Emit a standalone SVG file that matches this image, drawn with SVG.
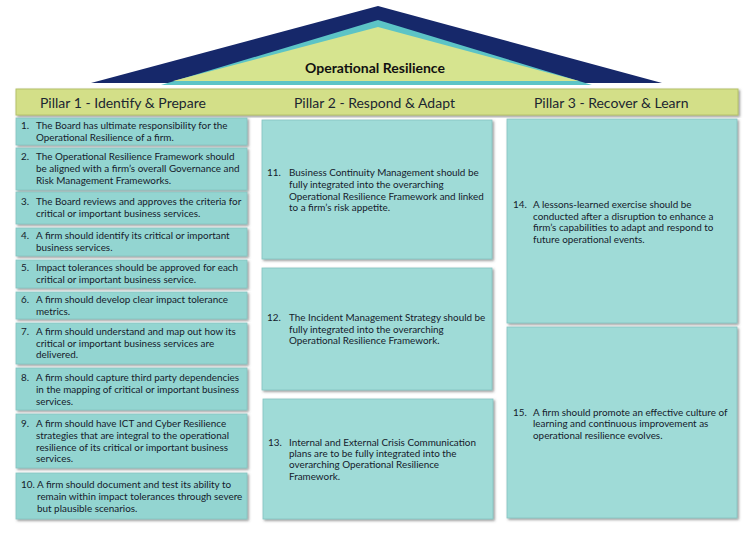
<svg xmlns="http://www.w3.org/2000/svg" width="756" height="536" viewBox="0 0 756 536">
<defs>
<filter id="sh" x="-5%" y="-5%" width="110%" height="115%">
<feDropShadow dx="1.5" dy="1.5" stdDeviation="1" flood-color="#444" flood-opacity="0.55"/>
</filter>
<style>
.box{fill:#9fdbd7;stroke:#86c4c1;stroke-width:0.8;filter:url(#sh)}
.b1{fill:#93d5d1}
.t{font-family:Lato,"Liberation Sans",sans-serif;font-size:9.9px;fill:#15202b}
.h{font-family:Lato,"Liberation Sans",sans-serif;font-size:14px;fill:#1b2631}
.title{font-family:Lato,"Liberation Sans",sans-serif;font-size:14px;font-weight:bold;fill:#111}
</style>
</defs>
<rect width="756" height="536" fill="#ffffff"/>
<g id="roof">
<polygon points="91,83 378,6 662,83" fill="#16286a"/>
<polygon points="161,85 378,20 592,85" fill="#5cc4c6"/>
<polygon points="173,81 378,27 579,81" fill="#d6e48f"/>
<text class="title" x="375" y="73" text-anchor="middle">Operational Resilience</text>
</g>
<g id="header">
<rect x="16" y="89" width="722" height="26" fill="#d3df88" stroke="#b5c26a" stroke-width="1" filter="url(#sh)"/>
<text class="h" x="40" y="108">Pillar 1 - Identify &amp; Prepare</text>
<text class="h" x="294" y="108">Pillar 2 - Respond &amp; Adapt</text>
<text class="h" x="534" y="108">Pillar 3 - Recover &amp; Learn</text>
</g>
<g id="connectors"/>
<g id="p1-1"><rect class="box b1" x="16" y="118" width="231" height="27"/>
<text class="t" x="21" y="129">1.</text><text class="t" x="36" y="129">The Board has ultimate responsibility for the</text><text class="t" x="36" y="141">Operational Resilience of a firm.</text></g>
<g id="p1-2"><rect class="box b1" x="16" y="148" width="231" height="42"/>
<text class="t" x="21" y="160">2.</text><text class="t" x="36" y="160">The Operational Resilience Framework should</text><text class="t" x="36" y="172">be aligned with a firm’s overall Governance and</text><text class="t" x="36" y="184">Risk Management Frameworks.</text></g>
<g id="p1-3"><rect class="box b1" x="16" y="192" width="231" height="32"/>
<text class="t" x="21" y="205">3.</text><text class="t" x="36" y="205">The Board reviews and approves the criteria for</text><text class="t" x="36" y="217">critical or important business services.</text></g>
<g id="p1-4"><rect class="box b1" x="16" y="228" width="231" height="28"/>
<text class="t" x="21" y="239">4.</text><text class="t" x="36" y="239">A firm should identify its critical or important</text><text class="t" x="36" y="251">business services.</text></g>
<g id="p1-5"><rect class="box b1" x="16" y="260" width="231" height="28"/>
<text class="t" x="21" y="271">5.</text><text class="t" x="36" y="271">Impact tolerances should be approved for each</text><text class="t" x="36" y="283">critical or important business service.</text></g>
<g id="p1-6"><rect class="box b1" x="16" y="292" width="231" height="27"/>
<text class="t" x="21" y="303">6.</text><text class="t" x="36" y="303">A firm should develop clear impact tolerance</text><text class="t" x="36" y="315">metrics.</text></g>
<g id="p1-7"><rect class="box b1" x="16" y="323" width="231" height="41"/>
<text class="t" x="21" y="335">7.</text><text class="t" x="36" y="335">A firm should understand and map out how its</text><text class="t" x="36" y="347">critical or important business services are</text><text class="t" x="36" y="358">delivered.</text></g>
<g id="p1-8"><rect class="box b1" x="16" y="368" width="231" height="42"/>
<text class="t" x="21" y="381">8.</text><text class="t" x="36" y="381">A firm should capture third party dependencies</text><text class="t" x="36" y="393">in the mapping of critical or important business</text><text class="t" x="36" y="405">services.</text></g>
<g id="p1-9"><rect class="box b1" x="16" y="414" width="231" height="54"/>
<text class="t" x="21" y="427">9.</text><text class="t" x="36" y="427">A firm should have ICT and Cyber Resilience</text><text class="t" x="36" y="439">strategies that are integral to the operational</text><text class="t" x="36" y="451">resilience of its critical or important business</text><text class="t" x="36" y="462">services.</text></g>
<g id="p1-10"><rect class="box b1" x="16" y="473" width="231" height="46"/>
<text class="t" x="21" y="488">10.</text><text class="t" x="37" y="488">A firm should document and test its ability to</text><text class="t" x="37" y="500">remain within impact tolerances through severe</text><text class="t" x="37" y="512">but plausible scenarios.</text></g>
<g id="p2-11"><rect class="box" x="262" y="120" width="230" height="139"/>
<text class="t" x="267" y="176">11.</text><text class="t" x="289" y="176">Business Continuity Management should be</text><text class="t" x="289" y="188">fully integrated into the overarching</text><text class="t" x="289" y="200">Operational Resilience Framework and linked</text><text class="t" x="289" y="211">to a firm’s risk appetite.</text></g>
<g id="p2-12"><rect class="box" x="262" y="268" width="230" height="122"/>
<text class="t" x="267" y="321">12.</text><text class="t" x="289" y="321">The Incident Management Strategy should be</text><text class="t" x="289" y="333">fully integrated into the overarching</text><text class="t" x="289" y="344">Operational Resilience Framework.</text></g>
<g id="p2-13"><rect class="box" x="263" y="399" width="230" height="120"/>
<text class="t" x="268" y="446">13.</text><text class="t" x="289" y="446">Internal and External Crisis Communication</text><text class="t" x="289" y="457">plans are to be fully integrated into the</text><text class="t" x="289" y="468">overarching Operational Resilience</text><text class="t" x="289" y="480">Framework.</text></g>
<g id="p3-14"><rect class="box" x="507" y="119" width="230" height="204"/>
<text class="t" x="513" y="208">14.</text><text class="t" x="533" y="208">A lessons-learned exercise should be</text><text class="t" x="533" y="220">conducted after a disruption to enhance a</text><text class="t" x="533" y="231">firm’s capabilities to adapt and respond to</text><text class="t" x="533" y="243">future operational events.</text></g>
<g id="p3-15"><rect class="box" x="507" y="327" width="230" height="191"/>
<text class="t" x="513" y="416">15.</text><text class="t" x="533" y="416">A firm should promote an effective culture of</text><text class="t" x="533" y="427">learning and continuous improvement as</text><text class="t" x="533" y="439">operational resilience evolves.</text></g>
</svg>
